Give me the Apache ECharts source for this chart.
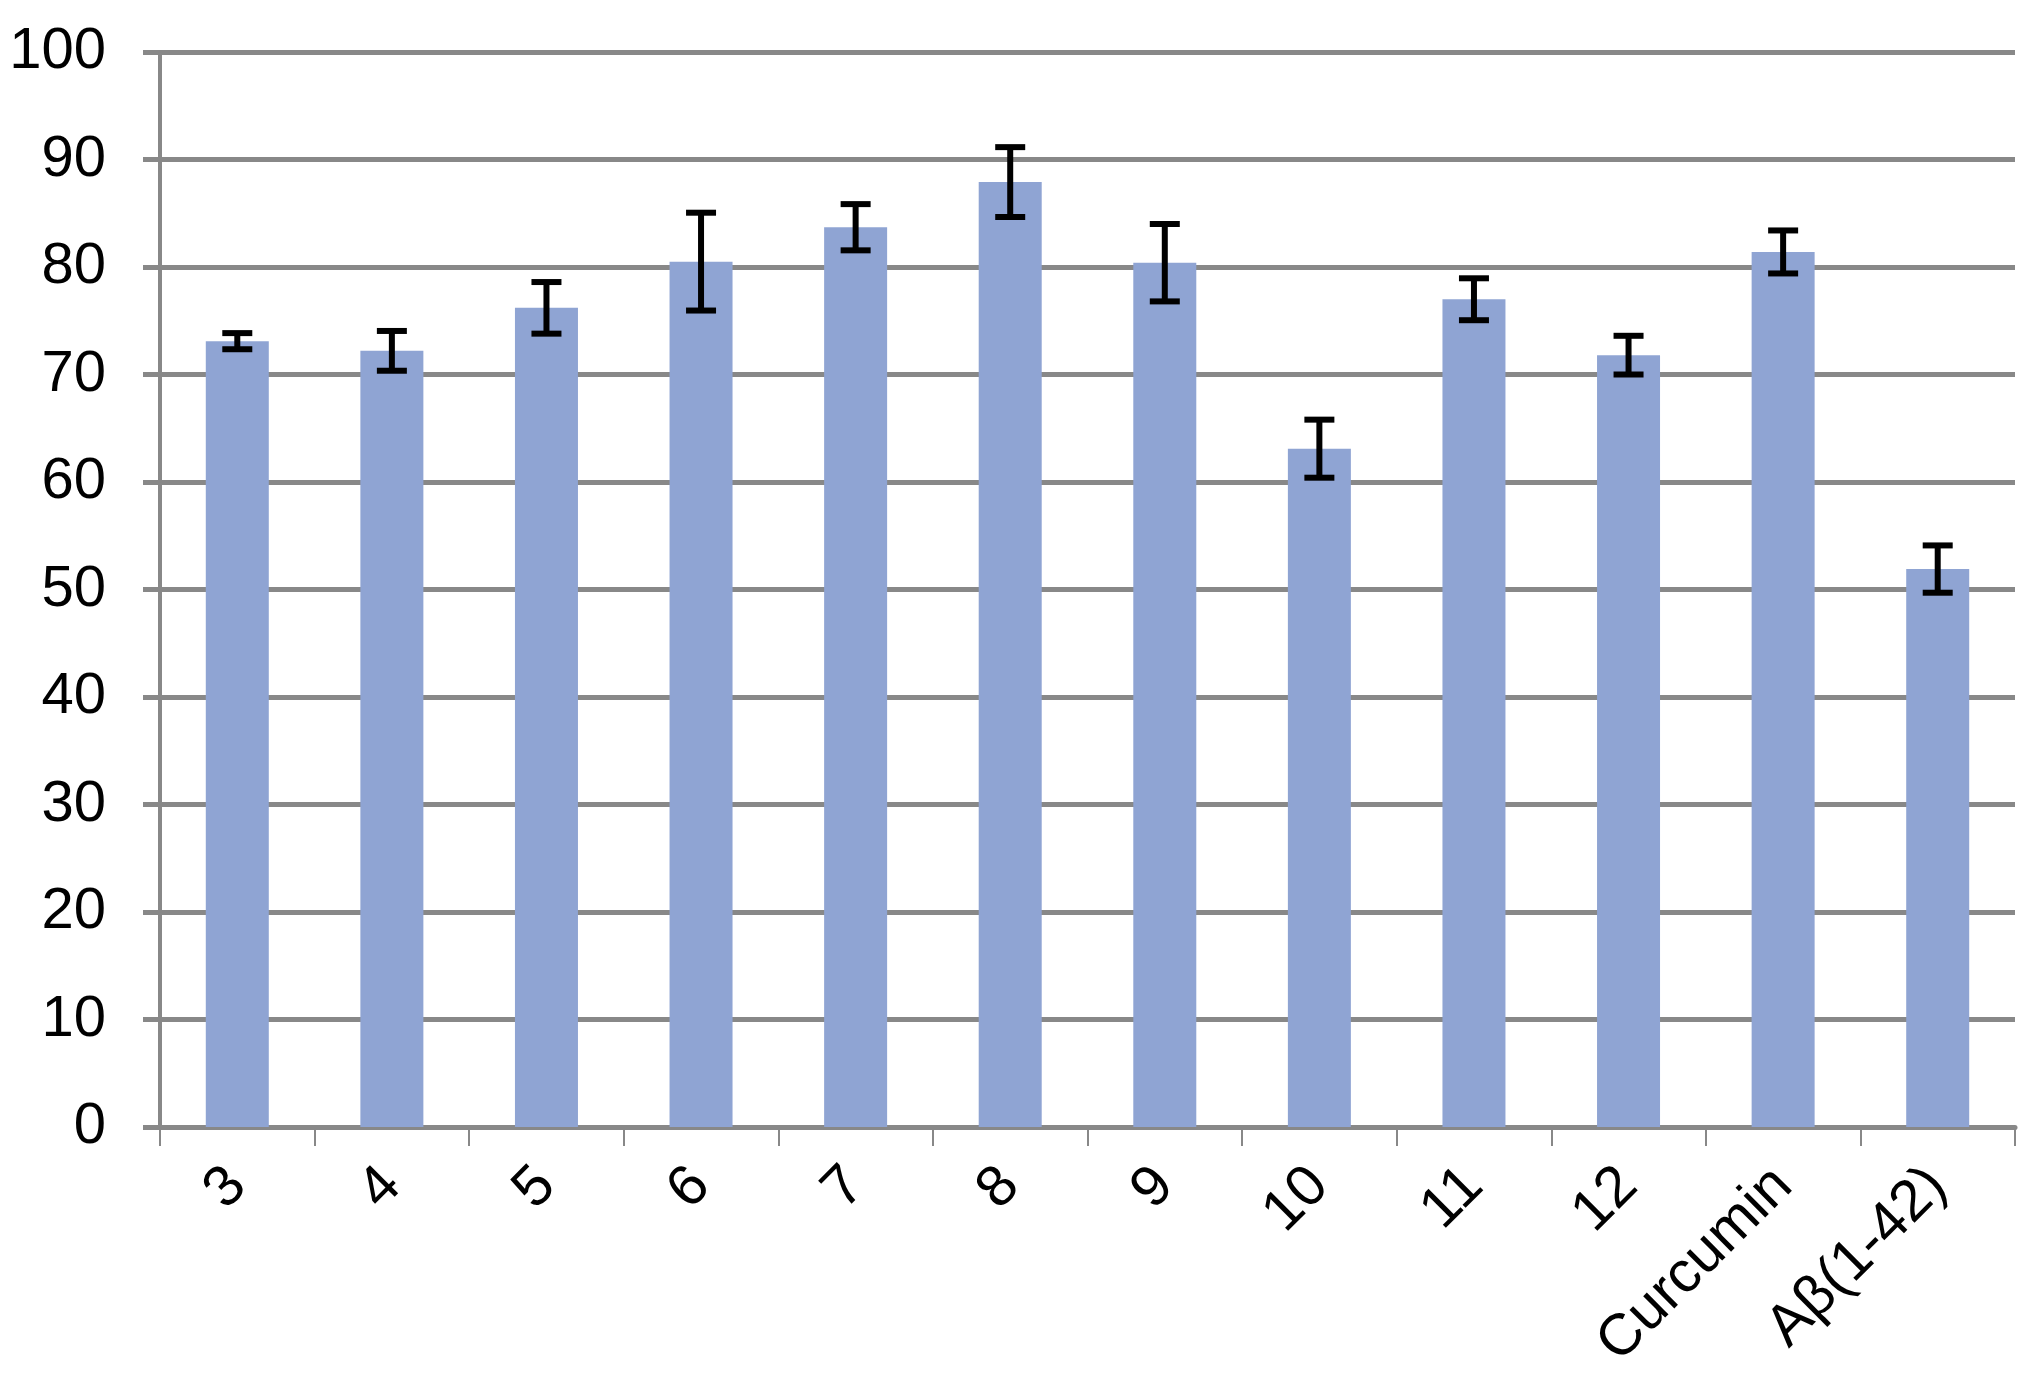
<!DOCTYPE html>
<html lang="en">
<head>
  <meta charset="utf-8">
  <style>
    html, body { margin: 0; padding: 0; background: #fff; }
    #container { width: 2038px; height: 1384px; }
  </style>
  <title>Bar chart with error bars</title>
</head>
<body>
  <div id="container"></div>

  <script type="text/javascript" src="https://fastly.jsdelivr.net/npm/echarts@6.0.0/dist/echarts.min.js"></script>
  <script type="text/javascript">
    var categories = ['3', '4', '5', '6', '7', '8', '9', '10', '11', '12', 'Curcumin', 'Aβ(1-42)'];
    var values = [73.1, 72.2, 76.2, 80.5, 83.7, 87.9, 80.4, 63.1, 77.0, 71.8, 81.4, 51.9];
    var errors = [0.75, 1.85, 2.4, 4.55, 2.15, 3.25, 3.6, 2.7, 1.95, 1.8, 2.0, 2.2];
    var yTicks = { min: 0, max: 100, interval: 10 };

    var errorData = values.map(function (v, i) {
      return [i, v - errors[i], v + errors[i]];
    });

    var font = "'Liberation Sans', Arial, sans-serif";
    var gridGray = '#888888';

    var chart = echarts.init(document.getElementById('container'));

    chart.setOption({
      animation: false,
      backgroundColor: '#ffffff',
      grid: { left: 160, right: 23, top: 52, bottom: 257, containLabel: false },
      xAxis: {
        type: 'category',
        data: categories,
        boundaryGap: true,
        axisLine: { show: true, lineStyle: { color: gridGray, width: 5 } },
        axisTick: { show: true, interval: 0, length: 19, lineStyle: { color: gridGray, width: 2 } },
        axisLabel: {
          interval: 0,
          rotate: 45,
          margin: 50,
          fontSize: 58,
          color: '#000',
          fontFamily: font
        },
        splitLine: { show: false }
      },
      yAxis: {
        type: 'value',
        min: yTicks.min,
        max: yTicks.max,
        interval: yTicks.interval,
        axisLine: { show: true, lineStyle: { color: gridGray, width: 4 } },
        axisTick: { show: true, length: 17, lineStyle: { color: gridGray, width: 5 } },
        axisLabel: {
          margin: 54,
          fontSize: 58,
          color: '#000',
          fontFamily: font
        },
        splitLine: { show: true, lineStyle: { color: gridGray, width: 5 } }
      },
      series: [
        {
          type: 'bar',
          data: values,
          barWidth: 63,
          itemStyle: { color: '#8FA4D3' },
          z: 2
        },
        {
          type: 'custom',
          data: errorData,
          encode: { x: 0, y: [1, 2] },
          z: 3,
          renderItem: function (params, api) {
            var x = api.value(0);
            var lo = api.coord([x, api.value(1)]);
            var hi = api.coord([x, api.value(2)]);
            var half = 15;
            var style = { stroke: '#000', lineWidth: 6 };
            return {
              type: 'group',
              children: [
                { type: 'line', shape: { x1: hi[0], y1: hi[1], x2: lo[0], y2: lo[1] }, style: style },
                { type: 'line', shape: { x1: hi[0] - half, y1: hi[1], x2: hi[0] + half, y2: hi[1] }, style: style },
                { type: 'line', shape: { x1: lo[0] - half, y1: lo[1], x2: lo[0] + half, y2: lo[1] }, style: style }
              ]
            };
          }
        }
      ]
    });
  </script>
</body>
</html>
